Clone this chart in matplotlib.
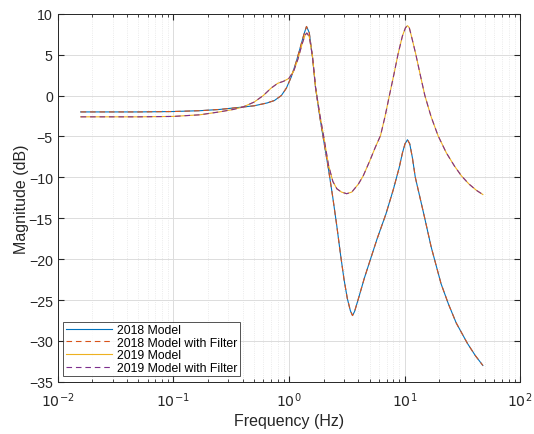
import matplotlib
matplotlib.use("Agg")
import matplotlib.pyplot as plt
import numpy as np

# 2018 model magnitude response (filtered version overlaps it)
freq_2018 = [0.0158, 0.03, 0.05, 0.1, 0.17, 0.25, 0.4, 0.5, 0.65, 0.75, 0.86, 0.95,
             1.05, 1.15, 1.25, 1.35, 1.42, 1.5, 1.6, 1.7, 1.85, 2.0, 2.2, 2.4, 2.6,
             2.8, 3.0, 3.2, 3.4, 3.55, 3.7, 4.0, 4.5, 5.0, 5.8, 6.9, 8.0, 9.0, 9.6,
             10.1, 10.6, 11.1, 11.7, 12.4, 14.8, 17, 20.7, 24, 28, 35, 41, 47.6]
mag_2018 = [-2.0, -2.0, -2.0, -1.95, -1.85, -1.7, -1.4, -1.25, -0.9, -0.6, 0.0, 0.9,
            2.3, 4.0, 5.8, 7.5, 8.45, 7.7, 4.7, 1.0, -2.6, -5.5, -9.0, -12.5, -16.0,
            -19.5, -22.5, -24.8, -26.3, -26.9, -26.4, -24.8, -22.3, -20.3, -17.5, -14.5, -11.5, -8.8, -7.0,
            -5.9, -5.4, -5.9, -7.6, -10.0, -14.7, -18.5, -23.0, -25.5, -27.8, -30.3, -31.8, -33.0]

# 2019 model magnitude response (filtered version overlaps it)
freq_2019 = [0.0158, 0.03, 0.05, 0.1, 0.17, 0.25, 0.33, 0.4, 0.5, 0.6, 0.7, 0.8, 0.9,
             1.0, 1.1, 1.2, 1.3, 1.38, 1.43, 1.5, 1.6, 1.7, 1.85, 2.0, 2.2, 2.4, 2.6,
             2.85, 3.16, 3.5, 4.0, 4.4, 5.0, 5.6, 6.2, 6.8, 7.4, 8.1, 8.8, 9.6, 10.2,
             10.6, 11.0, 11.6, 12.5, 13.7, 15, 17, 19.5, 23, 27, 31, 36, 42, 47.6]
mag_2019 = [-2.6, -2.6, -2.6, -2.55, -2.35, -2.0, -1.7, -1.4, -0.8, 0.0, 0.9, 1.5, 1.75,
            2.1, 3.0, 4.5, 6.3, 7.4, 7.65, 7.2, 4.8, 1.0, -2.3, -5.0, -8.5, -10.5, -11.4,
            -11.8, -12.0, -11.8, -10.8, -9.8, -8.0, -6.3, -4.9, -2.5, 0.0, 2.6, 5.1, 7.3, 8.3,
            8.55, 8.3, 7.0, 5.1, 2.5, 0.0, -2.6, -4.9, -7.0, -8.6, -9.8, -10.8, -11.6, -12.1]

labels = ["2018 Model", "2018 Model with Filter", "2019 Model", "2019 Model with Filter"]
colors = ["#0072BD", "#D95319", "#EDB120", "#7E2F8E"]

plt.rcParams['font.family'] = ['Liberation Sans', 'DejaVu Sans']

fig = plt.figure(figsize=(5.34, 4.35), dpi=100)
ax = fig.add_axes([0.108, 0.120, 0.866, 0.846])

ax.semilogx(freq_2018, mag_2018, color=colors[0], lw=0.8, label=labels[0])
ax.semilogx(freq_2018, mag_2018, color=colors[1], lw=0.8, ls=(0, (5, 3.5)), label=labels[1])
ax.semilogx(freq_2019, mag_2019, color=colors[2], lw=0.8, label=labels[2])
ax.semilogx(freq_2019, mag_2019, color=colors[3], lw=0.8, ls=(0, (5, 3.5)), label=labels[3])

ax.set_xlim(1e-2, 1e2)
ax.set_ylim(-35, 10)
ax.set_yticks(np.arange(-35, 11, 5))
ax.set_xticks([1e-2, 1e-1, 1e0, 1e1, 1e2])
ax.set_xticklabels(["$10^{-2}$", "$10^{-1}$", "$10^{0}$", "$10^{1}$", "$10^{2}$"])

ax.grid(True, which='major', color='#dcdcdc', lw=0.7, ls='-')
ax.grid(True, which='minor', color='#e4e4e4', lw=0.6, ls=':')
ax.set_axisbelow(True)

ax.tick_params(which='both', direction='in', top=True, right=True, colors='#262626',
               labelsize=10.2)
ax.tick_params(which='major', length=4)
ax.tick_params(which='minor', length=2)
ax.tick_params(axis='x', pad=6)
for s in ax.spines.values():
    s.set_color('#262626')
    s.set_linewidth(0.7)

ax.set_xlabel("Frequency (Hz)", fontsize=11.5, color='#262626', labelpad=3)
ax.set_ylabel("Magnitude (dB)", fontsize=11.5, color='#262626', labelpad=0)

leg = ax.legend(loc='lower left', fontsize=8.8, frameon=True, fancybox=False,
                edgecolor='#262626', borderpad=0.2, labelspacing=0.05,
                handlelength=3.8, handletextpad=0.4, borderaxespad=0.45)
leg.get_frame().set_linewidth(0.7)

fig.savefig("out.png", dpi=100)
